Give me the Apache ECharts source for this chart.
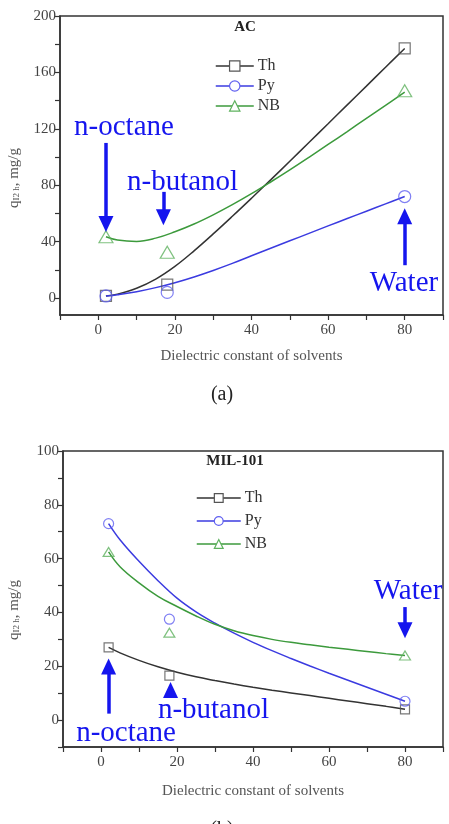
<!DOCTYPE html>
<html>
<head>
<meta charset="utf-8">
<title>AC / MIL-101</title>
<style>
  html, body { margin: 0; padding: 0; background: #fff; }
  #main { width: 449px; height: 824px; }
</style>
<script src="https://cdn.jsdelivr.net/npm/echarts@6/dist/echarts.min.js"></script>
</head>
<body>
<div id="main"></div>
<script>
var names = ['Th', 'Py', 'NB'];
// dielectric constant of n-octane, n-butanol, water
var solventX = [2, 18, 80];

// (a) AC - measured points
var acTh = [1.5, 9.5, 177];
var acPy = [1.5, 4, 72];
var acNB = [43.5, 32.5, 147];

// (a) fitted curves
var fitX = [2, 5, 10, 15, 20, 25, 30, 35, 40, 45, 50, 55, 60, 65, 70, 75, 80];
var acThFit = [1.5, 2.8, 7, 13.5, 22.5, 33.5, 45.5, 58, 70.8, 83.8, 97, 110.3, 123.6, 137, 150.3, 163.7, 177];
var acPyFit = [1.5, 2.4, 4.5, 7.4, 10.9, 15, 19.6, 24.6, 30, 35.3, 40.6, 45.9, 51.2, 56.4, 61.6, 66.8, 72];
var acNBFit = [43.5, 41.2, 40.2, 42.5, 47, 52.5, 59, 66.2, 74, 82.3, 90.9, 99.8, 108.9, 118.1, 127.4, 136.7, 146];

// (b) MIL-101 - measured points
var milTh = [27, 16.5, 4];
var milPy = [73, 37.5, 7];
var milNB = [62.5, 32.5, 24];

// (b) fitted curves (same x as fitX)
var milThFit = [27, 25, 22.2, 19.8, 17.8, 16.1, 14.7, 13.4, 12.2, 11.1, 10.1, 9.1, 8.1, 7.1, 6.1, 5.1, 4];
var milPyFit = [73, 67, 59, 51.8, 45.3, 40.2, 36, 32.3, 28.9, 25.8, 22.9, 20.1, 17.4, 14.8, 12.2, 9.6, 7];
var milNBFit = [62.5, 57, 51, 46, 42.2, 38.7, 35.6, 33.2, 31.4, 30, 28.9, 28, 27.1, 26.3, 25.5, 24.7, 24];

// tick labels
var xLabels = [0, 20, 40, 60, 80];
var xTicks = [-10, 0, 10, 20, 30, 40, 50, 60, 70, 80, 90];
var acYLabels = [0, 40, 80, 120, 160, 200];
var acYTicks = [0, 20, 40, 60, 80, 100, 120, 140, 160, 180, 200];
var milYLabels = [0, 20, 40, 60, 80, 100];
var milYTicks = [-10, 0, 10, 20, 30, 40, 50, 60, 70, 80, 90, 100];

var FONT = '"Liberation Serif", "Times New Roman", serif';
var lineColors = ['#333333', '#3b3be0', '#3c9a3c'];
var markColors = ['#555555', '#6060f0', '#5fb25f'];
var symbols = ['rect', 'circle', 'triangle'];
var annotBlue = '#1515ee';

function pairs(xs, ys) {
    var out = [];
    for (var i = 0; i < xs.length; i++) out.push([xs[i], ys[i]]);
    return out;
}

function xAxis(idx, gap) {
    return {
        gridIndex: idx, type: 'value', min: -10, max: 90,
        name: 'Dielectric constant of solvents',
        nameLocation: 'middle', nameGap: gap,
        nameTextStyle: { fontFamily: FONT, fontSize: 15, color: '#555' },
        axisLine: { show: true, onZero: false, lineStyle: { color: '#333', width: 1.5 } },
        axisTick: { show: true, length: 5, customValues: xTicks, lineStyle: { color: '#333', width: 1.2 } },
        axisLabel: { customValues: xLabels, fontFamily: FONT, fontSize: 15, color: '#444', margin: 8 },
        splitLine: { show: false }
    };
}

function yAxis(idx, min, max, labels, ticks) {
    return {
        gridIndex: idx, type: 'value', min: min, max: max,
        axisLine: { show: true, onZero: false, lineStyle: { color: '#333', width: 1.5 } },
        axisTick: { show: true, length: 5, customValues: ticks, lineStyle: { color: '#333', width: 1.2 } },
        axisLabel: { customValues: labels, fontFamily: FONT, fontSize: 15, color: '#444', margin: 4 },
        splitLine: { show: false }
    };
}

var series = [];
function addPanel(idx, fits, points, symSize) {
    for (var i = 0; i < 3; i++) {
        series.push({
            name: names[i], type: 'line', xAxisIndex: idx, yAxisIndex: idx,
            data: pairs(fitX, fits[i]), smooth: 0.4, showSymbol: false,
            symbol: symbols[i],
            lineStyle: { color: lineColors[i], width: 1.5 },
            itemStyle: { color: lineColors[i] },
            z: 2, silent: true
        });
    }
    for (var j = 0; j < 3; j++) {
        series.push({
            name: names[j], type: 'scatter', xAxisIndex: idx, yAxisIndex: idx,
            data: pairs(solventX, points[j]),
            symbol: symbols[j], symbolSize: symSize[j],
            itemStyle: { color: 'rgba(255,255,255,0)', borderColor: markColors[j], borderWidth: 1.2 },
            z: 3, silent: true
        });
    }
}

addPanel(0, [acThFit, acPyFit, acNBFit], [acTh, acPy, acNB], [11, 12, [14, 12]]);
addPanel(1, [milThFit, milPyFit, milNBFit], [milTh, milPy, milNB], [9, 10, [11, 9]]);

function annotText(text, x, y) {
    return {
        coord: [x, y], value: text, symbol: 'rect', symbolSize: 1,
        itemStyle: { color: 'rgba(0,0,0,0)' },
        label: {
            show: true, position: 'inside', formatter: text,
            fontFamily: FONT, fontSize: 29, color: annotBlue
        }
    };
}

function annotSeries(idx, texts, arrows) {
    return {
        name: 'annot' + idx, type: 'scatter', xAxisIndex: idx, yAxisIndex: idx,
        data: [], silent: true, z: 5,
        markPoint: { silent: true, animation: false, data: texts },
        markLine: {
            silent: true, animation: false,
            symbol: ['none', 'triangle'], symbolSize: [15, 16],
            lineStyle: { color: annotBlue, width: 3.5, type: 'solid' },
            itemStyle: { color: annotBlue },
            label: { show: false },
            data: arrows
        }
    };
}

series.push(annotSeries(0, [
    annotText('n-octane', 6.7, 121),
    annotText('n-butanol', 22, 82),
    annotText('Water', 79.8, 10.5)
], [
    [{ coord: [2, 110] }, { coord: [2, 52.6] }],
    [{ coord: [17, 75.3] }, { coord: [17, 57.3] }],
    [{ coord: [80, 23.3] }, { coord: [80, 58] }]
]));

series.push(annotSeries(1, [
    annotText('Water', 80.8, 48),
    annotText('n-octane', 6.6, -4.8),
    annotText('n-butanol', 29.6, 3.5)
], [
    [{ coord: [80, 42] }, { coord: [80, 33.4] }],
    [{ coord: [2, 2.4] }, { coord: [2, 19.9] }],
    [{ coord: [18.3, 8.6] }, { coord: [18.3, 11.2] }]
]));

function legendData() {
    return names.map(function (n, i) {
        return {
            name: n,
            itemStyle: { color: '#fff', borderColor: markColors[i], borderWidth: 1.2 }
        };
    });
}

var yName = {
    text: 'q{sub|I2 h}, mg/g', fontFamily: FONT, fontSize: 15, fill: '#555',
    align: 'center', verticalAlign: 'middle',
    rich: { sub: { fontFamily: FONT, fontSize: 9, fill: '#555', verticalAlign: 'bottom', padding: [6, 0, 0, 0] } }
};

var option = {
    backgroundColor: '#fff',
    animation: false,
    textStyle: { fontFamily: FONT },
    grid: [
        { left: 60, top: 16, width: 383, height: 299, show: true, borderColor: '#333', borderWidth: 1.5, backgroundColor: 'transparent', outerBoundsMode: 'none' },
        { left: 63, top: 451, width: 380, height: 296, show: true, borderColor: '#333', borderWidth: 1.5, backgroundColor: 'transparent', outerBoundsMode: 'none' }
    ],
    xAxis: [xAxis(0, 34), xAxis(1, 37)],
    yAxis: [
        yAxis(0, -12, 200, acYLabels, acYTicks),
        yAxis(1, -10, 100, milYLabels, milYTicks)
    ],
    legend: [
        {
            orient: 'vertical', left: 210, top: 53, itemWidth: 38, itemHeight: 13, itemGap: 4,
            data: legendData(), selectedMode: false,
            lineStyle: { width: 1.5 },
            textStyle: { fontFamily: FONT, fontSize: 16, color: '#333', padding: [0, 0, 0, -1] }
        },
        {
            orient: 'vertical', left: 191, top: 485, itemWidth: 44, itemHeight: 11, itemGap: 7,
            data: legendData(), selectedMode: false,
            lineStyle: { width: 1.5 },
            textStyle: { fontFamily: FONT, fontSize: 16, color: '#333', padding: [0, 0, 0, -1] }
        }
    ],
    graphic: [
        { type: 'text', x: 245, y: 27, style: { text: 'AC', fontFamily: FONT, fontSize: 15, fontWeight: 'bold', fill: '#222', align: 'center', verticalAlign: 'middle' } },
        { type: 'text', x: 235, y: 461, style: { text: 'MIL-101', fontFamily: FONT, fontSize: 15, fontWeight: 'bold', fill: '#222', align: 'center', verticalAlign: 'middle' } },
        { type: 'text', x: 222, y: 395, style: { text: '(a)', fontFamily: FONT, fontSize: 20, fill: '#222', align: 'center', verticalAlign: 'middle' } },
        { type: 'text', x: 222, y: 830, style: { text: '(b)', fontFamily: FONT, fontSize: 20, fill: '#222', align: 'center', verticalAlign: 'middle' } },
        { type: 'text', x: 14, y: 178, rotation: Math.PI / 2, style: yName },
        { type: 'text', x: 14, y: 610, rotation: Math.PI / 2, style: yName }
    ],
    series: series
};

var chart = echarts.init(document.getElementById('main'), null, { renderer: 'canvas' });
chart.setOption(option);
</script>
</body>
</html>
